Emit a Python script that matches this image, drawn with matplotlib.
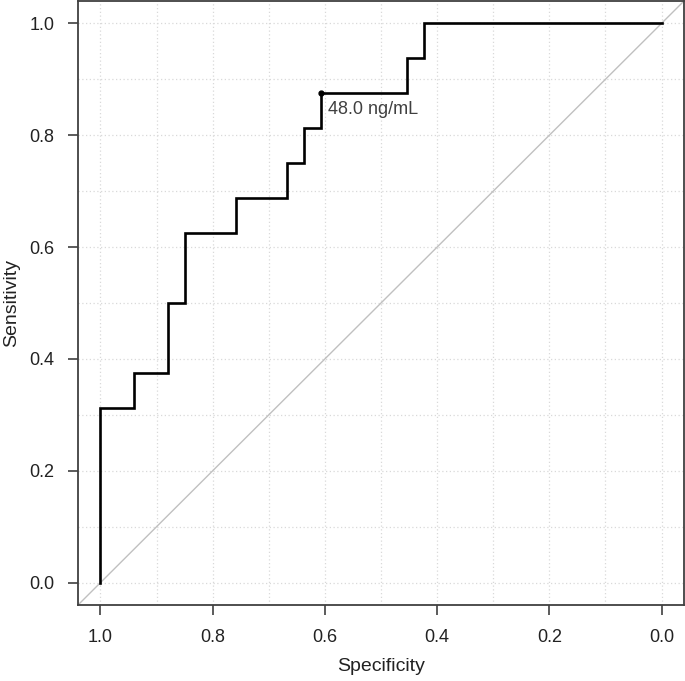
import matplotlib
matplotlib.use("Agg")
import matplotlib.pyplot as plt
import numpy as np

# ROC data (step curve)
specificity = [1.0, 1.0, 0.9394, 0.9394, 0.8788, 0.8788, 0.8485, 0.8485, 0.7576, 0.7576,
               0.6667, 0.6667, 0.6364, 0.6364, 0.6061, 0.6061, 0.4545, 0.4545, 0.4242, 0.4242, 0.0]
sensitivity = [0.0, 0.3125, 0.3125, 0.375, 0.375, 0.5, 0.5, 0.625, 0.625, 0.6875,
               0.6875, 0.75, 0.75, 0.8125, 0.8125, 0.875, 0.875, 0.9375, 0.9375, 1.0, 1.0]
best_spec = 0.6061
best_sens = 0.875
best_label = "48.0 ng/mL"
tick_vals = [1.0, 0.8, 0.6, 0.4, 0.2, 0.0]
tick_labels = ["1.0", "0.8", "0.6", "0.4", "0.2", "0.0"]
grid_vals = [i / 10 for i in range(11)]

plt.rcParams['font.family'] = ['Liberation Sans', 'DejaVu Sans']

fig = plt.figure(figsize=(6.85, 6.81), dpi=100)
ax = fig.add_axes([0.1139, 0.1116, 0.8846, 0.8869])

ax.set_xlim(1.04, -0.04)
ax.set_ylim(-0.04, 1.04)

# grid
for g in grid_vals:
    ax.axvline(g, color='#d9d9d9', linestyle=(0, (1, 2)), linewidth=0.9, zorder=0)
    ax.axhline(g, color='#d9d9d9', linestyle=(0, (1, 2)), linewidth=0.9, zorder=0)

# diagonal
ax.plot([1.04, -0.04], [-0.04, 1.04], color='#c0c0c0', linewidth=1.0, zorder=1)

# ROC curve
ax.plot(specificity, sensitivity, color='black', linewidth=1.9, zorder=3,
        solid_joinstyle='miter')

# best threshold point
ax.plot([best_spec], [best_sens], marker='o', markersize=3.5, color='black', zorder=4)
ax.annotate(best_label, xy=(best_spec, best_sens), xytext=(5, -12),
            textcoords='offset points', ha='left', va='center',
            fontsize=13, color='#404040')

ax.set_xticks(tick_vals)
ax.set_xticklabels(tick_labels)
ax.set_yticks(tick_vals)
ax.set_yticklabels(tick_labels)
ax.tick_params(axis='both', direction='out', length=7, width=1.2, color='#404040',
               labelsize=13, labelcolor='#222222', pad=10)

for s in ax.spines.values():
    s.set_color('#404040')
    s.set_linewidth(1.3)

ax.set_xlabel("Specificity", fontsize=14, color='#222222', labelpad=9)
fig.text(12 / 685, 0.5 + 0.5 * (0.1116 - (1 - 0.9985)) , "Sensitivity", rotation=90,
         ha='center', va='center', fontsize=14, color='#222222')

fig.savefig("out.png", dpi=100)
